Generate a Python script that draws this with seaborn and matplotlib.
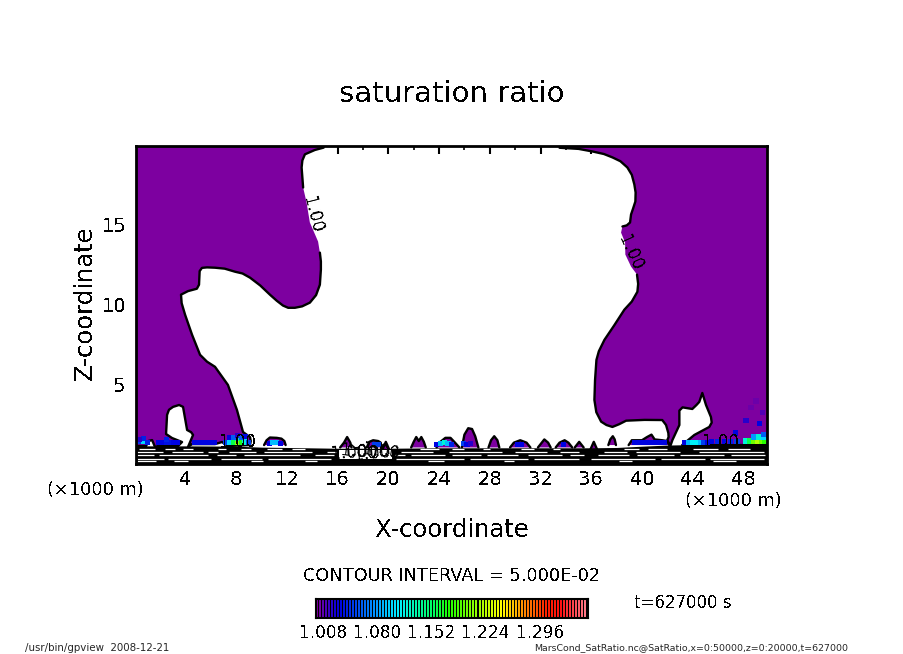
import numpy as np
import pandas as pd
import matplotlib
matplotlib.use("Agg")
import matplotlib.pyplot as plt
from matplotlib.colors import LinearSegmentedColormap
from matplotlib.ticker import MultipleLocator
import seaborn as sns

# ---------- data ----------
left_x = [14.9,14.2,13.42,13.22,13.16,13.28,13.55,13.81,14.46,14.6,14.68,14.68,14.6,14.3,13.81,13.2,12.63,12.1,11.69,11.2,10.66,9.9,9.09,8.5,7.91,7.1,6.33,5.7,5.3,5.12,5.07,4.9,4.2,3.65,3.7,3.97,4.52,5.15,5.7,6.33,7.35,8.06,8.54,9.09,9.15,9.09,7.35,6.88,6.33,4.52,4.2,4.6,4.45,4.13,3.81,3.5,3.02,2.7,2.55,2.47,2.94,3.73,3.42,1.84,1.6,1.37,1.06,0.9,0.1,0.1,14.9]
left_z = [19.8,19.65,19.38,19.0,18.56,17.31,16.38,15.13,13.94,13.25,12.7,12.19,11.25,10.6,10.13,9.9,9.81,9.81,9.95,10.25,10.63,11.2,11.69,11.95,12.06,12.25,12.31,12.33,12.3,12.1,11.25,11.0,10.85,10.63,10.1,9.38,8.13,6.88,6.45,6.13,5.0,3.44,2.06,1.75,1.5,1.25,1.19,1.44,1.31,1.31,1.13,1.88,2.05,2.19,3.63,3.75,3.63,3.45,3.13,1.94,1.69,1.44,1.19,1.19,1.13,1.56,1.5,1.19,1.19,19.9,19.9]
right_x = [33.5,35.0,36.09,37.0,37.67,38.3,38.85,39.2,39.4,39.5,39.48,39.3,39.14,39.06,38.8,38.46,38.35,38.67,38.69,39.14,39.61,39.7,39.64,39.2,38.61,37.8,37.04,36.6,36.41,36.3,36.25,36.4,36.78,37.2,37.67,38.2,38.75,40.2,41.6,41.9,42.08,42.1,42.0,42.24,42.4,42.95,42.95,43.2,43.97,44.3,44.52,44.76,45.05,45.44,45.5,45.31,44.13,43.17,49.9,49.9,33.5]
right_z = [19.79,19.72,19.56,19.4,19.19,18.95,18.56,18.1,17.5,17.0,16.44,16.0,15.63,15.13,14.95,14.88,14.5,13.88,13.13,12.38,11.88,11.3,10.81,10.2,9.69,8.7,7.81,7.1,6.56,5.3,4.06,3.3,2.71,2.5,2.38,2.55,2.77,2.82,2.81,2.5,2.0,1.75,1.56,1.19,1.56,2.5,3.4,3.6,3.5,3.75,3.94,4.5,3.75,3.0,2.65,2.38,1.88,1.25,1.25,19.9,19.9]

blob_x = [[10.2,10.4,10.66,11.2,11.57,11.8,11.9],[16.2,16.5,16.75,17.0,17.1],[18.3,18.5,18.8,19.2,19.4,19.45],[19.55,19.8,20.05],
          [21.8,22.0,22.2,22.4,22.6,22.8,22.95],[23.8,24.1,24.5,24.9,25.2,25.6],[25.8,26.0,26.3,26.6,26.85,27.1],[27.9,28.1,28.35,28.6,28.75],
          [29.6,29.9,30.4,30.9,31.2],[31.8,32.1,32.3,32.6,32.8],[33.2,33.5,33.9,34.2,34.5],[34.7,35.05,35.4],[35.95,36.2,36.45],
          [37.35,37.5,37.7,37.85,37.95],[38.95,39.2,40.0,40.4,40.75,41.0,41.6,42.0,42.15]]
blob_z = [[1.25,1.55,1.72,1.7,1.65,1.5,1.25],[1.1,1.4,1.75,1.4,1.1],[1.1,1.45,1.55,1.5,1.4,1.1],[1.0,1.45,1.0],
          [1.1,1.45,1.75,1.5,1.75,1.45,1.1],[1.1,1.45,1.7,1.7,1.45,1.1],[1.1,1.9,2.3,2.25,1.8,1.1],[1.1,1.55,1.8,1.55,1.1],
          [1.1,1.4,1.55,1.4,1.1],[1.1,1.4,1.6,1.4,1.1],[1.1,1.4,1.55,1.4,1.1],[1.1,1.45,1.1],[1.0,1.45,1.0],
          [1.25,1.6,1.8,1.6,1.25],[1.25,1.55,1.55,1.75,1.9,1.6,1.55,1.5,1.25]]

spot_x = [0.4,0.7,0.7,1.0,0.4, 1.9,2.2,2.5,2.8,3.1,3.4,2.5, 4.7,5.1,5.5,5.9,6.3,
          7.2,7.5,7.8,8.1,8.1,8.4,8.7,8.7,9.0,7.5,7.8,8.1,8.4,8.7,
          10.6,10.9,11.2,11.5, 18.9,19.2, 23.8,24.1,24.4,24.7,25.0, 25.9,26.2,26.5, 30.2,30.5, 33.8,
          39.4,39.8,40.2,40.6,41.0,41.4,41.8,
          43.4,43.7,44.0,44.3,44.6,44.9,45.2,45.5,46.0,46.5,47.0,47.5,
          48.2,48.5,48.8,49.1,49.4,49.7,48.8,49.2,49.6,47.4,48.2,49.3,49.6,48.6,49.0,49.5]
spot_z = [1.45,1.45,1.65,1.4,1.6, 1.4,1.4,1.4,1.4,1.4,1.4,1.6, 1.4,1.4,1.4,1.4,1.4,
          1.4,1.4,1.4,1.4,1.65,1.4,1.4,1.65,1.4,1.7,1.7,1.85,1.7,1.8,
          1.35,1.4,1.4,1.35, 1.3,1.3, 1.3,1.35,1.4,1.35,1.3, 1.35,1.3,1.35, 1.3,1.3, 1.3,
          1.4,1.4,1.4,1.4,1.4,1.4,1.4,
          1.4,1.4,1.4,1.4,1.4,1.4,1.4,1.45,1.45,1.45,1.45,1.45,
          1.5,1.5,1.5,1.5,1.5,1.5,1.75,1.75,1.75,2.0,2.8,2.6,1.9,3.6,4.0,3.3]
spot_level = [1.05,1.10,1.04,1.04,1.02, 1.03,1.03,1.035,1.035,1.03,1.03,1.04, 1.03,1.03,1.03,1.03,1.03,
              1.05,1.10,1.16,1.21,1.13,1.17,1.12,1.10,1.05,1.03,1.06,1.02,1.06,1.03,
              1.03,1.09,1.09,1.03, 1.05,1.05, 1.03,1.09,1.12,1.09,1.04, 1.05,1.03,1.02, 1.03,1.03, 1.03,
              1.03,1.03,1.03,1.03,1.03,1.03,1.03,
              1.03,1.09,1.11,1.11,1.09,1.05,1.03,1.03,1.04,1.03,1.04,1.05,
              1.12,1.16,1.20,1.22,1.20,1.18,1.08,1.12,1.10,1.03,1.02,1.03,1.06,1.005,1.005,1.01]

band_x = [0.1,4,8,10,12,16,20,24,28,32,36,38,40,42,44,46,49.9]
band_z = [1.2,1.2,1.18,1.12,1.1,1.05,1.05,1.08,1.08,1.08,1.08,1.1,1.18,1.25,1.28,1.28,1.28]

streak_z = [1.0,0.8,0.6,0.4,0.25]
streaks = [
    [(0.3,1.6),(2.4,3.2),(3.8,4.6),(6.6,7.2),(8.4,9.2),(10.4,11.6),(12.4,13.4),(22.5,24),(25,26),(27.5,28),(30.5,31.5),(33,33.5),(38.6,39.8),(40.5,42),(44,46),(46.8,48.5)],
    [(0.2,2.2),(2.9,5.4),(5.8,6.6),(7.4,9.6),(10.2,14),(15.2,15.9),(21,23.5),(24.8,29),(30,32.5),(33.5,35),(37,38.8),(39.5,43),(44.5,49.6)],
    [(0.2,1.5),(1.9,5.8),(6.5,8),(8.6,13),(14.2,15.7),(20.5,21.3),(21.8,24.5),(25,27.3),(27.8,30.2),(31,33.7),(34.3,35.4),(36.5,39),(39.6,42.5),(43,46.5),(47,49.7)],
    [(0.2,2.3),(2.6,6),(6.8,10),(10.5,15.5),(20.6,26),(26.4,31),(31.5,35),(36,41),(41.5,45),(45.4,49.6)],
    [(0.2,1.7),(3.1,4.2),(9.2,10.1),(13.4,14.4),(23.1,24.4),(29.1,29.9),(38.2,39.2),(45.6,47.4)],
]
# stretches of the x=… boundary where the 1.00 contour label interrupts the line
left_label_gap = (13.9, 16.5)
right_label_gap = (11.9, 14.6)
mess_x = [16.1, 20.3]

cbar_ticks = ["1.008", "1.080", "1.152", "1.224", "1.296"]
cbar_tick_values = [1.008, 1.080, 1.152, 1.224, 1.296]
cbar_stops = [(0.0,"#7d00a0"),(0.08,"#0000e0"),(0.21,"#0090ff"),(0.30,"#00f0ff"),(0.43,"#00ff60"),
              (0.49,"#20ff00"),(0.68,"#ffff00"),(0.76,"#ff9000"),(0.85,"#ff2000"),(0.90,"#ff1010"),(1.0,"#ff8090")]
x_ticks = [4,8,12,16,20,24,28,32,36,40,44,48]
z_ticks = [5,10,15]

# ---------- style ----------
W, H = 904, 654
sns.set_theme(style="white")
plt.rcParams["font.family"] = ["DejaVu Sans"]
plt.rcParams["text.antialiased"] = False
fig = plt.figure(figsize=(W/100, H/100), dpi=100, facecolor="white")
def px(x0, y0, x1, y1):
    return [x0/W, 1-y1/H, (x1-x0)/W, (y1-y0)/H]
def label(x, y, s, size, **kw):
    fig.text(x/W, 1-y/H, s, fontsize=size, color="black", ha=kw.pop("ha","center"), va="center", **kw)

PURPLE = "#7d00a0"
cmap = LinearSegmentedColormap.from_list("gtool", cbar_stops)

ax = fig.add_axes(px(136, 146, 767.5, 463.5))
ax.set_xlim(0.1, 49.9)
ax.set_ylim(0.1, 19.9)

ax.fill(left_x, left_z, color=PURPLE, lw=0, zorder=1)
ax.fill(right_x, right_z, color=PURPLE, lw=0, zorder=1)
for bx, bz in zip(blob_x, blob_z):
    ax.fill(bx, bz, color=PURPLE, lw=0, zorder=1)

def contour_line(xs, zs, gap=None):
    """Draw a contour; leave out the stretch hidden by its label."""
    seg_x, seg_z = [], []
    for x, z in zip(xs, zs):
        if gap and gap[0] < z < gap[1]:
            if seg_x:
                sns.lineplot(x=seg_x, y=seg_z, sort=False, estimator=None, color="black", lw=1.7, ax=ax, zorder=2)
            seg_x, seg_z = [], []
        else:
            seg_x.append(x); seg_z.append(z)
    if seg_x:
        sns.lineplot(x=seg_x, y=seg_z, sort=False, estimator=None, color="black", lw=1.7, ax=ax, zorder=2)

contour_line(left_x[:-2], left_z[:-2], left_label_gap)
contour_line(right_x[:-2], right_z[:-2], right_label_gap)
for bx, bz in zip(blob_x, blob_z):
    contour_line(bx, bz)

spots = pd.DataFrame({"x": spot_x, "z": spot_z, "level": spot_level})
sns.scatterplot(data=spots, x="x", y="z", hue="level", palette=cmap, hue_norm=(1.0, 1.36),
                marker="s", s=14, linewidth=0, legend=False, ax=ax, zorder=3)

ax.fill_between(band_x, 0.1, band_z, color="black", lw=0, zorder=4)
ax.fill_between(mess_x, 0.35, 0.95, color="white", lw=0, zorder=4.5)
for z, row in zip(streak_z, streaks):
    for x0, x1 in row:
        ax.plot([x0, x1], [z, z], color="white", lw=0.9, solid_capstyle="butt", zorder=5)

# contour labels
kw = dict(color="black", fontsize=12, ha="center", va="center", zorder=6)
ax.text(14.04, 15.6, "1.00", rotation=-76, **kw)
ax.text(39.08, 13.25, "1.00", rotation=-66, **kw)
ax.text(46.2, 1.45, "1.00", rotation=0, **kw)
ax.text(8.1, 1.45, "1.00", rotation=0, **kw)
for lx, lz, lr in [(16.9, 0.75, 4), (17.7, 0.85, -6), (18.7, 0.7, 5), (19.4, 0.85, -8)]:
    ax.text(lx, lz, "1.00", rotation=lr, **kw)

# axes frame
for s in ax.spines.values():
    s.set_linewidth(2.0)
    s.set_color("black")
    s.set_zorder(10)
ax.set_xticks(x_ticks)
ax.set_yticks(z_ticks)
ax.xaxis.set_minor_locator(MultipleLocator(2))
ax.yaxis.set_minor_locator(MultipleLocator(1))
ax.tick_params(which="major", direction="in", top=True, bottom=True, left=True, right=True,
               length=6, width=1.5, labelsize=14, colors="black", zorder=10)
ax.tick_params(which="minor", direction="in", top=True, bottom=True, left=True, right=True,
               length=3, width=1.2, colors="black", zorder=10)
ax.tick_params(axis="x", which="major", pad=5)
ax.tick_params(axis="y", which="major", pad=7)
ax.set_xlabel("X-coordinate", fontsize=17.5, color="black", va="center")
ax.set_ylabel("Z-coordinate", fontsize=17.5, color="black", va="center")
ax.xaxis.set_label_coords(0.5, -0.208)
ax.yaxis.set_label_coords(-0.081, 0.505)

# colour bar
cax = fig.add_axes(px(316, 599, 588, 618))
cax.set_facecolor("black")
levels = np.arange(1.0, 1.36, 0.004)
cax.set_xlim(0.999, 1.36)
cax.set_ylim(0, 1)
cax.vlines(levels, 0, 1, colors=[cmap((v-1.0)/0.36) for v in levels], lw=1.2, antialiased=False)
cax.set_xticks(cbar_tick_values)
cax.set_xticklabels(cbar_ticks, fontsize=12.2, color="black")
cax.set_yticks([])
cax.tick_params(axis="x", length=0, pad=4)
for s in cax.spines.values():
    s.set_linewidth(1.5)
    s.set_color("black")

# figure text
label(452, 94, "saturation ratio", 21)
label(95, 490, "(×1000 m)", 12.8)
label(733, 501, "(×1000 m)", 12.8)
label(452, 576, "CONTOUR INTERVAL = 5.000E-02", 12.8)
label(683, 603, "t=627000 s", 12)
fig.text(25/W, 1-648/H, "/usr/bin/gpview  2008-12-21", fontsize=7.4, va="center", ha="left", antialiased=True)
fig.text(534/W, 1-648/H, "MarsCond_SatRatio.nc@SatRatio,x=0:50000,z=0:20000,t=627000", fontsize=6.75,
         va="center", ha="left", antialiased=True)

fig.savefig("out.png", dpi=100, facecolor="white")
